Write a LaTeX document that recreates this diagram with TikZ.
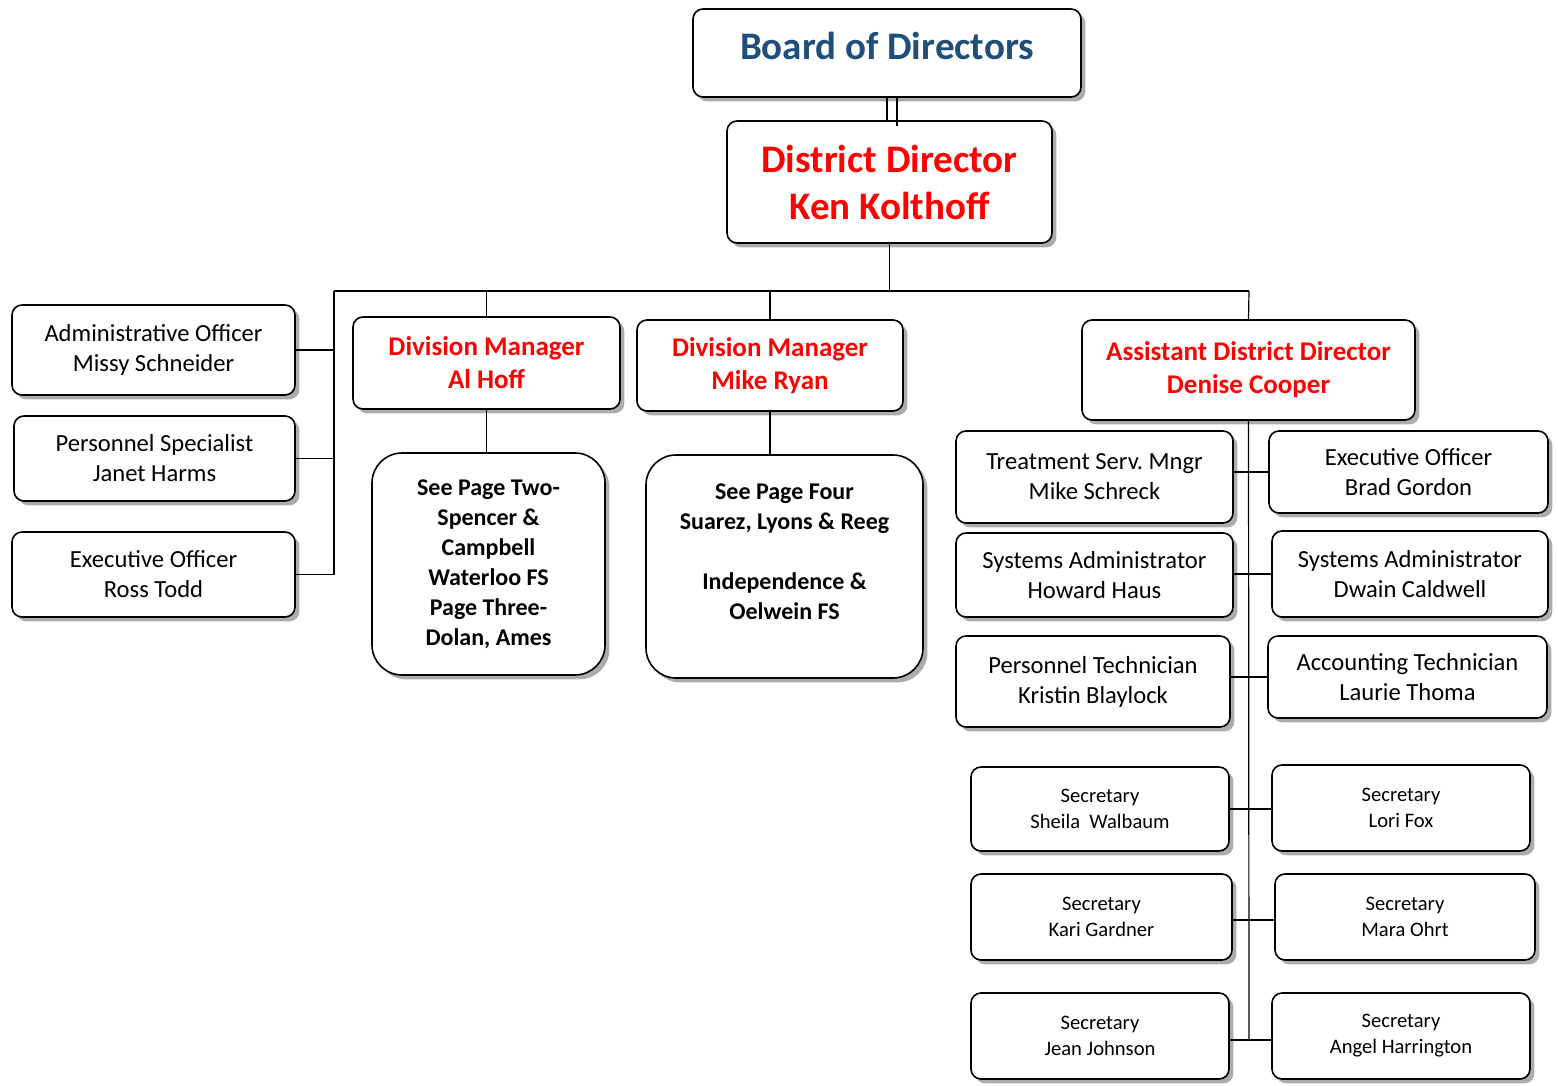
\documentclass[tikz,border=0pt]{standalone}
\usepackage{fontspec}
\setmainfont{Carlito}
\usepackage{tikz}
\usetikzlibrary{positioning,calc,shadows}
\definecolor{boardblue}{RGB}{31,78,121}
\newcommand{\staffsize}{\fontsize{12.3}{15}\selectfont}
\newcommand{\secsize}{\fontsize{10.3}{13}\selectfont}

\begin{document}
\begin{tikzpicture}[x=0.5pt,y=-0.5pt,
  box/.style={rectangle,draw,line width=0.8pt,rounded corners=5pt,fill=white,inner sep=0pt,align=center,
    drop shadow={shadow xshift=2.2pt,shadow yshift=-2.2pt,fill=black!65}},
  staff/.style={box,font=\staffsize},
  sec/.style={box,font=\secsize},
  mgr/.style={box,text=red,font=\bfseries\fontsize{13.5}{16.5}\selectfont},
  pageref/.style={box,rounded corners=15pt,font=\bfseries\fontsize{12}{15}\selectfont},
  link/.style={line width=0.6pt}]
  \useasboundingbox (0,0) rectangle (1558,1086);

  % top of the chart
  \node[box,minimum width=194pt,minimum height=44pt,text=boardblue,font=\bfseries\fontsize{19.5}{23.5}\selectfont] (board) at (887,53) {\raisebox{7pt}{Board of Directors}};
  \node[box,minimum width=162.5pt,minimum height=61pt,text=red,font=\bfseries\fontsize{19.5}{23.5}\selectfont] (district) at (889.5,182) {District Director\\Ken Kolthoff};
  \coordinate (bl) at (334,291);
  \coordinate (br) at (1249,291);

  % staff on the left
  \node[staff,minimum width=141.5pt,minimum height=45pt] (admin) at (153.5,350) {Administrative Officer\\Missy Schneider};
  \node[staff,minimum width=140.5pt,minimum height=42.5pt] (persspec) at (154.5,458.5) {Personnel Specialist\\Janet Harms};
  \node[staff,minimum width=141.5pt,minimum height=42.5pt] (rosstodd) at (153.5,574.5) {Executive Officer\\Ross Todd};

  % divisions
  \node[mgr,minimum width=133.5pt,minimum height=46pt] (alhoff) at (486.5,363) {Division Manager\\Al Hoff};
  \node[pageref,minimum width=116.5pt,minimum height=111pt] (pagetwo) at (488.5,564) {See Page Two-\\Spencer \&\\Campbell\\Waterloo FS\\Page Three-\\Dolan, Ames};
  \node[mgr,minimum width=133pt,minimum height=45.5pt] (mikeryan) at (770,365.5) {Division Manager\\Mike Ryan};
  \node[pageref,minimum width=138.5pt,minimum height=111.5pt] (pagefour) at (784.5,566.5) {See Page Four\\Suarez, Lyons \& Reeg\\~\\Independence \&\\Oelwein FS\\~};
  \node[mgr,minimum width=166.5pt,minimum height=50pt] (assist) at (1248.5,370) {Assistant District Director\\Denise Cooper};

  % staff under the assistant
  \node[staff,minimum width=138.5pt,minimum height=46pt] (treat) at (1094.5,477) {Treatment Serv.\ Mngr\\Mike Schreck};
  \node[staff,minimum width=139.5pt,minimum height=41pt] (brad) at (1408.5,472) {Executive Officer\\Brad Gordon};
  \node[staff,minimum width=138.5pt,minimum height=42pt] (howard) at (1094.5,575) {Systems Administrator\\Howard Haus};
  \node[staff,minimum width=138pt,minimum height=43pt] (dwain) at (1410,574) {Systems Administrator\\Dwain Caldwell};
  \node[staff,minimum width=137pt,minimum height=45.5pt] (kristin) at (1093,681.5) {Personnel Technician\\Kristin Blaylock};
  \node[staff,minimum width=139.5pt,minimum height=41pt] (laurie) at (1407.5,677) {Accounting Technician\\Laurie Thoma};
  \node[sec,minimum width=129pt,minimum height=42pt] (sheila) at (1100,809) {Secretary\\Sheila\ \ Walbaum};
  \node[sec,minimum width=129pt,minimum height=43pt] (lori) at (1401,808) {Secretary\\Lori Fox};
  \node[sec,minimum width=130.5pt,minimum height=43pt] (kari) at (1101.5,917) {Secretary\\Kari Gardner};
  \node[sec,minimum width=130pt,minimum height=43pt] (mara) at (1405,917) {Secretary\\Mara Ohrt};
  \node[sec,minimum width=129pt,minimum height=43pt] (jean) at (1100,1036) {Secretary\\Jean Johnson};
  \node[sec,minimum width=129pt,minimum height=43pt] (angel) at (1401,1036) {Secretary\\Angel Harrington};
  \coordinate (spineend) at (1249,1040);

  % connectors
  \draw[link] (board.south) -- (board.south |- district.north);
  \draw[link] ([xshift=5pt]board.south) -- ([xshift=5pt,yshift=-3pt]board.south |- district.north);
  \draw[link] (district.south) -- (district.south |- bl);
  \draw[link] (bl) -- (br);
  \draw[link] (bl) |- (rosstodd.east);
  \draw[link] (admin.east) -- (admin.east -| bl);
  \draw[link] (persspec.east) -- (persspec.east -| bl);
  \draw[link] (alhoff.north |- bl) -- (alhoff.north);
  \draw[link] (alhoff.south) -- (alhoff.south |- pagetwo.north);
  \draw[link] (mikeryan.north |- bl) -- (mikeryan.north);
  \draw[link] (mikeryan.south) -- (mikeryan.south |- pagefour.north);
  \draw[link] (br) -- (assist.north);
  \draw[link] (assist.south) -- (spineend);
  \draw[link] (brad.west) -- (brad.west -| treat.east);
  \draw[link] (dwain.west) -- (dwain.west -| howard.east);
  \draw[link] (laurie.west) -- (laurie.west -| kristin.east);
  \draw[link] (sheila.east) -- (sheila.east -| lori.west);
  \draw[link] ([yshift=-1.5pt]mara.west) -- ([yshift=-1.5pt]mara.west -| kari.east);
  \draw[link] (spineend -| jean.east) -- (spineend -| angel.west);
\end{tikzpicture}
\end{document}
